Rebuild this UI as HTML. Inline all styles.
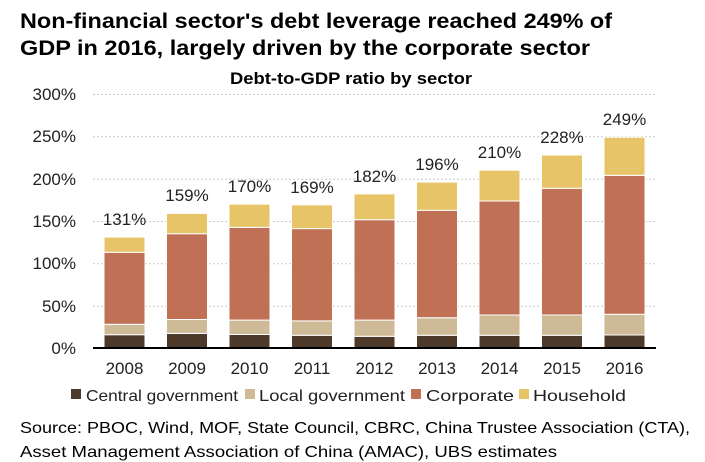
<!DOCTYPE html>
<html><head><meta charset="utf-8"><style>
body{margin:0;background:#fff;}
svg{display:block;font-family:"Liberation Sans",sans-serif;}
</style></head><body>
<svg width="705" height="462" viewBox="0 0 705 462" xmlns="http://www.w3.org/2000/svg">
<text x="20" y="28" font-size="21" font-weight="bold" fill="#000" textLength="592" lengthAdjust="spacingAndGlyphs">Non-financial sector's debt leverage reached 249% of</text>
<text x="20" y="55" font-size="21" font-weight="bold" fill="#000" textLength="570" lengthAdjust="spacingAndGlyphs">GDP in 2016, largely driven by the corporate sector</text>
<text x="230" y="84" font-size="17" font-weight="bold" fill="#000" textLength="242" lengthAdjust="spacingAndGlyphs">Debt-to-GDP ratio by sector</text>
<g stroke="#c8c8c8" stroke-width="1" stroke-dasharray="2,2">
<line x1="93" x2="656" y1="94.5" y2="94.5"/><line x1="93" x2="656" y1="136.8" y2="136.8"/>
<line x1="93" x2="656" y1="179.2" y2="179.2"/><line x1="93" x2="656" y1="221.5" y2="221.5"/>
<line x1="93" x2="656" y1="263.8" y2="263.8"/><line x1="93" x2="656" y1="306.2" y2="306.2"/>
</g>
<g font-size="17" fill="#222" text-anchor="end">
<text x="76" y="100">300%</text><text x="76" y="142">250%</text><text x="76" y="185">200%</text>
<text x="76" y="227">150%</text><text x="76" y="269">100%</text><text x="76" y="312">50%</text><text x="76" y="354">0%</text>
</g>
<g stroke="#fff" stroke-width="1">
<rect x="104" y="334.7" width="41" height="13.3" fill="#4d3a2b"/><rect x="104" y="324.3" width="41" height="10.4" fill="#cfba98"/><rect x="104" y="252.3" width="41" height="72" fill="#c07055"/><rect x="104" y="237.1" width="41" height="15.2" fill="#e8c468"/>
<rect x="166.5" y="333.4" width="41" height="14.6" fill="#4d3a2b"/><rect x="166.5" y="319.5" width="41" height="13.9" fill="#cfba98"/><rect x="166.5" y="233.7" width="41" height="85.8" fill="#c07055"/><rect x="166.5" y="213.4" width="41" height="20.3" fill="#e8c468"/>
<rect x="229" y="334.5" width="41" height="13.5" fill="#4d3a2b"/><rect x="229" y="320.1" width="41" height="14.4" fill="#cfba98"/><rect x="229" y="227.3" width="41" height="92.8" fill="#c07055"/><rect x="229" y="204.1" width="41" height="23.2" fill="#e8c468"/>
<rect x="291.5" y="335.3" width="41" height="12.7" fill="#4d3a2b"/><rect x="291.5" y="320.9" width="41" height="14.4" fill="#cfba98"/><rect x="291.5" y="228.6" width="41" height="92.3" fill="#c07055"/><rect x="291.5" y="204.9" width="41" height="23.7" fill="#e8c468"/>
<rect x="354" y="336.3" width="41" height="11.7" fill="#4d3a2b"/><rect x="354" y="320.1" width="41" height="16.2" fill="#cfba98"/><rect x="354" y="219.7" width="41" height="100.4" fill="#c07055"/><rect x="354" y="193.9" width="41" height="25.8" fill="#e8c468"/>
<rect x="416.5" y="335.3" width="41" height="12.7" fill="#4d3a2b"/><rect x="416.5" y="317.7" width="41" height="17.6" fill="#cfba98"/><rect x="416.5" y="210.3" width="41" height="107.4" fill="#c07055"/><rect x="416.5" y="182.1" width="41" height="28.2" fill="#e8c468"/>
<rect x="479" y="335.3" width="41" height="12.7" fill="#4d3a2b"/><rect x="479" y="315" width="41" height="20.3" fill="#cfba98"/><rect x="479" y="201" width="41" height="114" fill="#c07055"/><rect x="479" y="170.2" width="41" height="30.8" fill="#e8c468"/>
<rect x="541.5" y="335.3" width="41" height="12.7" fill="#4d3a2b"/><rect x="541.5" y="315" width="41" height="20.3" fill="#cfba98"/><rect x="541.5" y="188.3" width="41" height="126.7" fill="#c07055"/><rect x="541.5" y="155" width="41" height="33.3" fill="#e8c468"/>
<rect x="604" y="335" width="41" height="13" fill="#4d3a2b"/><rect x="604" y="314.3" width="41" height="20.7" fill="#cfba98"/><rect x="604" y="175.3" width="41" height="139" fill="#c07055"/><rect x="604" y="137.2" width="41" height="38.1" fill="#e8c468"/>
</g>
<line x1="93" x2="656" y1="348" y2="348" stroke="#000" stroke-width="2"/>
<g font-size="17" fill="#222" text-anchor="middle">
<text x="124.5" y="374">2008</text><text x="187" y="374">2009</text><text x="249.5" y="374">2010</text><text x="312" y="374">2011</text><text x="374.5" y="374">2012</text><text x="437" y="374">2013</text><text x="499.5" y="374">2014</text><text x="562" y="374">2015</text><text x="624.5" y="374">2016</text>
<text x="124.5" y="225">131%</text><text x="187" y="201">159%</text><text x="249.5" y="192">170%</text><text x="312" y="193">169%</text><text x="374.5" y="182">182%</text><text x="437" y="170">196%</text><text x="499.5" y="158">210%</text><text x="562" y="143">228%</text><text x="624.5" y="125">249%</text>
</g>
<g font-size="16" fill="#222">
<rect x="71" y="389" width="10" height="10" fill="#4d3a2b"/><text x="86" y="401" textLength="152" lengthAdjust="spacingAndGlyphs">Central government</text>
<rect x="245" y="389" width="10" height="10" fill="#cfba98"/><text x="259" y="401" textLength="146" lengthAdjust="spacingAndGlyphs">Local government</text>
<rect x="411" y="389" width="10" height="10" fill="#c07055"/><text x="426" y="401" textLength="88" lengthAdjust="spacingAndGlyphs">Corporate</text>
<rect x="519" y="389" width="10" height="10" fill="#e8c468"/><text x="533" y="401" textLength="93" lengthAdjust="spacingAndGlyphs">Household</text>
</g>
<text x="20" y="433" font-size="16" fill="#000" textLength="670" lengthAdjust="spacingAndGlyphs">Source: PBOC, Wind, MOF, State Council, CBRC, China Trustee Association (CTA),</text>
<text x="20" y="457" font-size="16" fill="#000" textLength="537" lengthAdjust="spacingAndGlyphs">Asset Management Association of China (AMAC), UBS estimates</text>
</svg>
</body></html>
